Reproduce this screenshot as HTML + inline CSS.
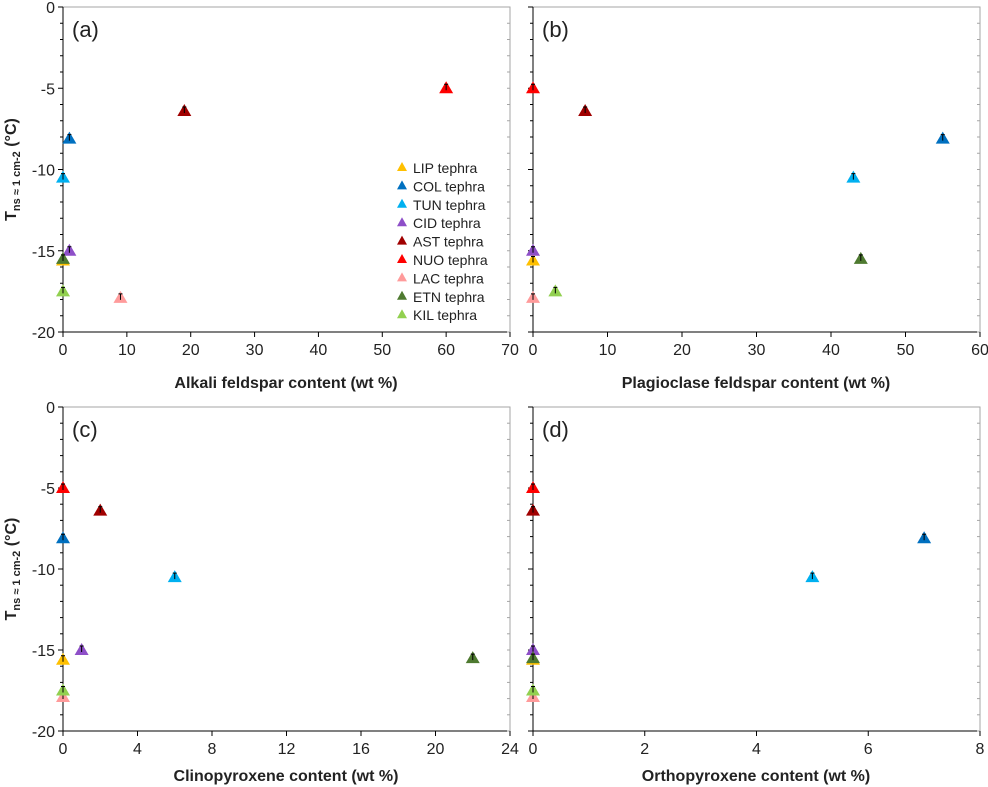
<!DOCTYPE html>
<html><head><meta charset="utf-8"><style>
body{margin:0;background:#fff;}
svg{display:block;font-family:"Liberation Sans",Calibri,sans-serif;}
</style></head><body>
<svg id="c" width="988" height="787" viewBox="0 0 988 787"></svg>
<script>
const series=["LIP tephra","COL tephra","TUN tephra","CID tephra","AST tephra","NUO tephra","LAC tephra","ETN tephra","KIL tephra"];
const colors=["#FFC000","#0070C0","#00B0F0","#8E4FC8","#A00000","#FF0000","#FF9B9B","#4E7A30","#92D050"];
const tns=[-15.6,-8.1,-10.5,-15.0,-6.4,-5.0,-17.9,-15.5,-17.5];
const alkali=[0,1,0,1,19,60,9,0,0];
const plag=[0,55,43,0,7,0,0,44,3];
const cpx=[0,0,6,1,2,0,0,22,0];
const opx=[0,7,5,0,0,0,0,0,0];
const yTicks=[0,-5,-10,-15,-20];
const panels=[
 {id:"a",label:"(a)",x0:63,x1:510,y0:7,y1:332,xmax:70,step:10,vals:alkali,title:"Alkali feldspar content (wt %)",tx:286,ty:388,legend:true},
 {id:"b",label:"(b)",x0:533,x1:980,y0:7,y1:332,xmax:60,step:10,vals:plag,title:"Plagioclase feldspar content (wt %)",tx:756,ty:388},
 {id:"c",label:"(c)",x0:63,x1:510,y0:407,y1:731,xmax:24,step:4,vals:cpx,title:"Clinopyroxene content (wt %)",tx:286,ty:787-6},
 {id:"d",label:"(d)",x0:533,x1:980,y0:407,y1:731,xmax:8,step:2,vals:opx,title:"Orthopyroxene content (wt %)",tx:756,ty:787-6}
];
const svg=document.getElementById('c');
const NS="http://www.w3.org/2000/svg";
function mk(t,a,p){const e=document.createElementNS(NS,t);for(const k in a)e.setAttribute(k,a[k]);(p||svg).appendChild(e);return e;}
panels.forEach(P=>{
 const g=mk('g',{});
 
 
 const sx=v=>P.x0+v/P.xmax*(P.x1-P.x0);
 const sy=v=>P.y0+(-v)/20*(P.y1-P.y0);
 const f=mk('rect',{x:P.x0,y:P.y0,width:P.x1-P.x0,height:P.y1-P.y0,fill:'none',stroke:'#a6a6a6','stroke-width':1},g);
 
 mk('line',{x1:P.x0,y1:P.y0,x2:P.x0,y2:P.y1,stroke:'#000'},g);
 mk('line',{x1:P.x0,y1:P.y1,x2:P.x1,y2:P.y1,stroke:'#000'},g);
 for(let v=0;v>=-20;v--){const y=sy(v);mk('line',{x1:P.x0-(v%5===0?5:3),y1:y,x2:P.x0,y2:y,stroke:'#000'},g);mk('line',{x1:P.x1-3,y1:y,x2:P.x1,y2:y,stroke:'#a6a6a6'},g);}
 if(P.id==='a'||P.id==='c'){
 yTicks.forEach(v=>{const t=mk('text',{x:P.x0-8,y:sy(v)+6,'text-anchor':'end','font-size':16,fill:'#222'},g);t.textContent=v;
  });
 }
 for(let v=0;v<=P.xmax;v+=P.step){const x=sx(v);mk('line',{x1:x,y1:P.y1,x2:x,y2:P.y1+5,stroke:'#000'},g);
  const t=mk('text',{x:x,y:P.y1+23,'text-anchor':'middle','font-size':16,fill:'#222'},g);t.textContent=v;
  }
 const xt=mk('text',{x:P.tx,y:P.ty,'text-anchor':'middle','font-size':16,'font-weight':'bold',fill:'#222'},g);xt.textContent=P.title;
 
 const lb=mk('text',{x:P.x0+9,y:P.y0+30,'font-size':22,fill:'#222'},g);lb.textContent=P.label;
 
 if(P.id==='a'||P.id==='c'){
  const yt=mk('text',{transform:`translate(16,${(P.y0+P.y1)/2}) rotate(-90)`,'text-anchor':'middle','font-size':16,'font-weight':'bold',fill:'#222'},g);
  yt.innerHTML='T<tspan font-size="11" dy="4">ns ≈ 1 cm-2</tspan><tspan dy="-4"> (°C)</tspan>';
  
 }
 series.forEach((s,i)=>{
  const x=sx(P.vals[i]),y=sy(tns[i]);
  const m=mk('polygon',{points:`${x},${y-7} ${x-7},${y+5} ${x+7},${y+5}`,fill:colors[i]},g);
  
  
  mk('line',{x1:x,y1:y-4,x2:x,y2:y+2,stroke:'#000','stroke-width':1},g);
  mk('line',{x1:x-2,y1:y-4,x2:x+2,y2:y-4,stroke:'#000','stroke-width':1},g);
 });
 if(P.legend){
  series.forEach((s,i)=>{
   const y=168+i*18.4;
   const le=mk('g',{},g);
   
   mk('polygon',{points:`${402},${y-6} ${397},${y+3} ${407},${y+3}`,fill:colors[i]},le);
   const t=mk('text',{x:413,y:y+5,'font-size':14,fill:'#222'},le);t.textContent=s;
  });
 }
});
</script>
</body></html>
